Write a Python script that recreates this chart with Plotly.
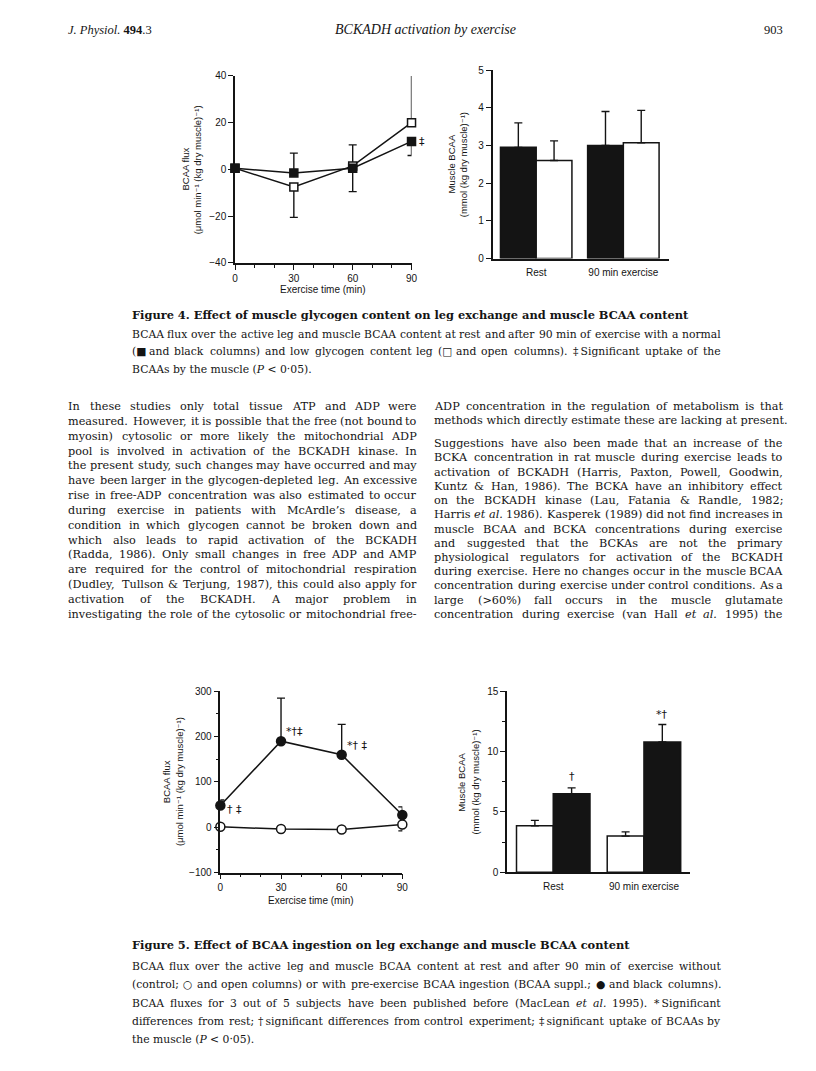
import re
import plotly.graph_objects as go

W, H = 816, 1071
SANS = "Liberation Sans, Arial, DejaVu Sans, sans-serif"
SERIF = "DejaVu Serif, serif"
HEAD = "Liberation Serif, serif"
INK = "#141414"

# ---------------- Figure 4 data ----------------
time_min = [0, 30, 60, 90]
f4_normal_flux = [0.5, -1.5, 0.5, 12.0]
f4_normal_err_up = [0, 8.5, 0, 0]
f4_normal_err_down = [0, 0, 10.0, 6.0]
f4_low_flux = [0.5, -7.5, 1.5, 20.0]
f4_low_err_up = [0, 0, 9.0, 22.5]
f4_low_err_down = [0, 13.0, 0, 0]

bar_cats = ["Rest", "90 min exercise"]
f4_normal_bcaa = [2.95, 3.0]
f4_normal_bcaa_err = [0.65, 0.9]
f4_low_bcaa = [2.6, 3.07]
f4_low_bcaa_err = [0.52, 0.86]

# ---------------- Figure 5 data ----------------
f5_suppl_flux = [48, 190, 160, 27]
f5_suppl_err_up = [12, 95, 67, 18]
f5_ctrl_flux = [1, -4, -5, 6]
f5_ctrl_err_down = [0, 0, 0, 14]

f5_ctrl_bcaa = [3.85, 3.0]
f5_ctrl_bcaa_err = [0.45, 0.35]
f5_suppl_bcaa = [6.5, 10.8]
f5_suppl_bcaa_err = [0.5, 1.45]

# ---------------- Text ----------------
header_left = "<i>J. Physiol.</i> <b>494</b>.3"
header_mid = "<i>BCKADH activation by exercise</i>"
header_right = "903"

flux_label = ["BCAA flux", "(\u03bcmol min\u207b\u00b9 (kg dry muscle)\u207b\u00b9)"]
bcaa_label = ["Muscle BCAA", "(mmol (kg dry muscle)\u207b\u00b9)"]
time_label = "Exercise time (min)"

fig4_title = "<b>Figure 4. Effect of muscle glycogen content on leg exchange and muscle BCAA content</b>"
fig4_caption = [
    "BCAA flux over the active leg and muscle BCAA content at rest and after 90 min of exercise with a normal",
    "(\u25a0 and black columns) and low glycogen content leg (\u25a1 and open columns). \u2021\u2009Significant uptake of the",
    "BCAAs by the muscle (<i>P</i> < 0\u00b705).",
]
fig5_title = "<b>Figure 5. Effect of BCAA ingestion on leg exchange and muscle BCAA content</b>"
fig5_caption = [
    "BCAA flux over the active leg and muscle BCAA content at rest and after 90 min of exercise without",
    "(control; \u25cb and open columns) or with pre-exercise BCAA ingestion (BCAA suppl.; \u25cf and black columns).",
    "BCAA fluxes for 3 out of 5 subjects have been published before (MacLean <i>et</i> <i>al.</i> 1995). *\u2009Significant",
    "differences from rest; \u2020\u2009significant differences from control experiment; \u2021\u2009significant uptake of BCAAs by",
    "the muscle (<i>P</i> < 0\u00b705).",
]

body_left = [
    "In these studies only total tissue ATP and ADP were",
    "measured. However, it is possible that the free (not bound to",
    "myosin) cytosolic or more likely the mitochondrial ADP",
    "pool is involved in activation of the BCKADH kinase. In",
    "the present study, such changes may have occurred and may",
    "have been larger in the glycogen-depleted leg. An excessive",
    "rise in free-ADP concentration was also estimated to occur",
    "during exercise in patients with McArdle\u2019s disease, a",
    "condition in which glycogen cannot be broken down and",
    "which also leads to rapid activation of the BCKADH",
    "(Radda, 1986). Only small changes in free ADP and AMP",
    "are required for the control of mitochondrial respiration",
    "(Dudley, Tullson & Terjung, 1987), this could also apply for",
    "activation of the BCKADH. A major problem in",
    "investigating the role of the cytosolic or mitochondrial free-",
]
body_right = [
    "ADP concentration in the regulation of metabolism is that",
    "methods which directly estimate these are lacking at present.",
    "Suggestions have also been made that an increase of the",
    "BCKA concentration in rat muscle during exercise leads to",
    "activation of BCKADH (Harris, Paxton, Powell, Goodwin,",
    "Kuntz & Han, 1986). The BCKA have an inhibitory effect",
    "on the BCKADH kinase (Lau, Fatania & Randle, 1982;",
    "Harris <i>et</i> <i>al.</i> 1986). Kasperek (1989) did not find increases in",
    "muscle BCAA and BCKA concentrations during exercise",
    "and suggested that the BCKAs are not the primary",
    "physiological regulators for activation of the BCKADH",
    "during exercise. Here no changes occur in the muscle BCAA",
    "concentration during exercise under control conditions. As a",
    "large (>60%) fall occurs in the muscle glutamate",
    "concentration during exercise (van Hall <i>et</i> <i>al.</i> 1995) the",
]
body_right_last_of_par = [1]

# ---------------- helpers ----------------
def X(px):
    return px / W

def Y(py):
    return 1 - py / H

# approximate advance widths (em) of DejaVu Serif
LC = dict(a=.593, b=.640, c=.560, d=.640, e=.592, f=.370, g=.640, h=.644, i=.320, j=.310,
          k=.606, l=.320, m=.950, n=.644, o=.602, p=.640, q=.640, r=.478, s=.513, t=.402,
          u=.644, v=.565, w=.856, x=.564, y=.565, z=.527)
UC = dict(A=.719, B=.734, C=.731, D=.799, E=.731, F=.687, G=.794, H=.875, I=.434, J=.432,
          K=.769, L=.673, M=1.009, N=.836, O=.799, P=.674, Q=.799, R=.753, S=.688, T=.674,
          U=.808, V=.719, W=1.042, X=.719, Y=.674, Z=.689)
PUNCT = {' ': .318, '.': .318, ',': .318, ':': .337, ';': .337, '(': .390, ')': .390,
         '-': .338, '&': .890, '\u2019': .318, "'": .274, '%': .950, '>': .838, '<': .838,
         '\u2020': .5, '\u2021': .5, '*': .5, '\u2009': .15, '\u00b7': .318,
         '\u25a0': .77, '\u25a1': .77, '\u25cb': .87, '\u25cf': .87}
PAD = 1.03


def em_width(s):
    s = re.sub(r"<[^>]+>", "", s)
    tot = 0.0
    for ch in s:
        if ch in LC:
            tot += LC[ch]
        elif ch in UC:
            tot += UC[ch]
        elif ch.isdigit():
            tot += .636
        else:
            tot += PUNCT.get(ch, .6)
    return tot * PAD


annots = []


def txt(text, x, y, size, family=SERIF, xanchor="left", yanchor="middle", angle=0, color=INK):
    annots.append(dict(text=text, x=X(x), y=Y(y), xref="paper", yref="paper", xanchor=xanchor,
                       yanchor=yanchor, showarrow=False, textangle=angle, borderpad=0, borderwidth=0,
                       font=dict(family=family, size=size, color=color)))


def fit_size(lines, width, cap, mingap):
    best = cap
    for ln in lines:
        words = ln.split(" ")
        need = sum(em_width(w) for w in words) + mingap * (len(words) - 1)
        best = min(best, width / need)
    return best


def justified(lines, x0, x1, ys, size, nojust):
    for i, (ln, y) in enumerate(zip(lines, ys)):
        if i in nojust:
            txt(ln, x0, y, size)
            continue
        words = ln.split(" ")
        widths = [em_width(w) * size for w in words]
        gap = (x1 - x0 - sum(widths)) / (len(words) - 1)
        pos = x0
        for k, (w, wd) in enumerate(zip(words, widths)):
            if k == 0:
                txt(w, x0, y, size)
            elif k == len(words) - 1:
                txt(w, x1, y, size, xanchor="right")
            else:
                txt(w, pos + wd / 2, y, size, xanchor="center")
            pos += wd + gap


# ---------------- header ----------------
txt(header_left, 58, 16, 12.5, family=HEAD)
txt(header_mid, 419, 16, 14, family=HEAD, xanchor="center")
txt(header_right, 781, 16, 12.5, family=HEAD, xanchor="right")

# ---------------- body text ----------------
colL = (58, 411)
colR = (428, 781)
body_size = fit_size(body_left + body_right, colL[1] - colL[0], 11.8, 0.2)
ysL = [397 + i * 15.0 for i in range(len(body_left))]
ysR = []
for i in range(len(body_right)):
    if i < 2:
        ysR.append(397 + i * 14.4)
    else:
        ysR.append(397 + (i + 0.6) * 14.4)
justified(body_left, colL[0], colL[1], ysL, body_size, set())
justified(body_right, colR[0], colR[1], ysR, body_size, set(body_right_last_of_par))

# ---------------- captions ----------------
capL, capR = 122, 718
cap_size = fit_size(fig4_caption[:-1] + fig5_caption[:-1], capR - capL, 10.8, 0.2)
txt(fig4_title, capL, 304, cap_size + 0.6)
justified(fig4_caption, capL, capR, [324 + i * 17.8 for i in range(3)], cap_size, {2})
txt(fig5_title, capL, 942, cap_size + 0.6)
justified(fig5_caption, capL, capR, [963.5 + i * 18.4 for i in range(5)], cap_size, {4})

# ---------------- chart geometry (pixels) ----------------
f4a = dict(x=(226.5, 405.0), y=(62.7, 251.7))
f4b = dict(x=(487.0, 665.0), y=(56.7, 247.3))
f5a = dict(x=(211.7, 395.7), y=(685.0, 868.3))
f5b = dict(x=(501.7, 686.7), y=(685.0, 868.0))


def dom(g):
    return [X(g["x"][0]), X(g["x"][1])], [Y(g["y"][1]), Y(g["y"][0])]


TF = dict(family=SANS, size=10, color=INK)


def lin_axis(domain, rng, dtick, minor, anchor):
    d = dict(domain=domain, range=rng, dtick=dtick, tick0=0, showline=True, linecolor=INK, linewidth=1.5,
             ticks="outside", ticklen=5, tickwidth=1.4, tickcolor=INK, showgrid=False, zeroline=False,
             tickfont=TF, anchor=anchor, fixedrange=True)
    if minor:
        d["minor"] = dict(dtick=minor, tick0=0, ticks="outside", ticklen=3, tickwidth=1.2,
                          tickcolor=INK, showgrid=False)
    return d


def cat_axis(domain, rng, anchor):
    return dict(domain=domain, range=rng, type="category", showline=True, linecolor=INK, linewidth=1.5,
                ticks="outside", ticklen=4, tickcolor="rgba(0,0,0,0)", showgrid=False, zeroline=False,
                tickfont=TF, anchor=anchor, fixedrange=True)


def line_trace(y, up, down, filled, symbol, size, xa, ya):
    return go.Scatter(x=time_min, y=y, xaxis=xa, yaxis=ya, mode="lines+markers",
                      line=dict(color=INK, width=1.5),
                      marker=dict(symbol=symbol, size=size, color=INK if filled else "white",
                                  line=dict(color=INK, width=1.5)),
                      error_y=dict(type="data", symmetric=False, array=up, arrayminus=down,
                                   color=INK, thickness=1.4, width=4),
                      cliponaxis=False, showlegend=False, hoverinfo="skip")


def bar_trace(y, err, color, offset, width, xa, ya):
    return go.Bar(x=bar_cats, y=y, xaxis=xa, yaxis=ya, width=width, offset=offset,
                  marker=dict(color=color, line=dict(color=INK, width=1.5)),
                  error_y=dict(type="data", symmetric=False, array=err, arrayminus=[0] * len(err),
                               color=INK, thickness=1.4, width=4),
                  cliponaxis=False, showlegend=False, hoverinfo="skip")


fig = go.Figure()
# Figure 4 left
fig.add_trace(line_trace(f4_low_flux, f4_low_err_up, f4_low_err_down, False, "square", 8, "x", "y"))
fig.add_trace(line_trace(f4_normal_flux, f4_normal_err_up, f4_normal_err_down, True, "square", 8, "x", "y"))
# Figure 4 right
bw4 = 0.41
fig.add_trace(bar_trace(f4_normal_bcaa, f4_normal_bcaa_err, INK, -bw4, bw4, "x2", "y2"))
fig.add_trace(bar_trace(f4_low_bcaa, f4_low_bcaa_err, "white", 0, bw4, "x2", "y2"))
# Figure 5 left
fig.add_trace(line_trace(f5_ctrl_flux, [0, 0, 0, 0], f5_ctrl_err_down, False, "circle", 9, "x3", "y3"))
fig.add_trace(line_trace(f5_suppl_flux, f5_suppl_err_up, [0, 0, 0, 0], True, "circle", 9, "x3", "y3"))
# Figure 5 right
bw5 = 0.405
fig.add_trace(bar_trace(f5_ctrl_bcaa, f5_ctrl_bcaa_err, "white", -bw5, bw5, "x4", "y4"))
fig.add_trace(bar_trace(f5_suppl_bcaa, f5_suppl_bcaa_err, INK, 0, bw5, "x4", "y4"))

dx, dy = dom(f4a)
xa1 = lin_axis(dx, [0, 90], 30, 10, "y")
ya1 = lin_axis(dy, [-40, 40], 20, None, "x")
dx, dy = dom(f4b)
xa2 = cat_axis(dx, [-0.5, 1.52], "y2")
ya2 = lin_axis(dy, [0, 5], 1, None, "x2")
dx, dy = dom(f5a)
xa3 = lin_axis(dx, [0, 90], 30, 10, "y3")
ya3 = lin_axis(dy, [-100, 300], 100, 50, "x3")
dx, dy = dom(f5b)
xa4 = cat_axis(dx, [-0.508, 1.509], "y4")
ya4 = lin_axis(dy, [0, 15], 5, 2.5, "x4")

# axis titles (as text)
LF = 9.5
mid4a = (f4a["y"][0] + f4a["y"][1]) / 2
txt(flux_label[0], 176, mid4a, LF, family=SANS, xanchor="center", angle=-90)
txt(flux_label[1], 189, mid4a, LF, family=SANS, xanchor="center", angle=-90)
txt(time_label, (f4a["x"][0] + f4a["x"][1]) / 2, 279, LF + 0.5, family=SANS, xanchor="center")
mid4b = (f4b["y"][0] + f4b["y"][1]) / 2
txt(bcaa_label[0], 445, mid4b, LF, family=SANS, xanchor="center", angle=-90)
txt(bcaa_label[1], 457, mid4b, LF, family=SANS, xanchor="center", angle=-90)

mid5a = (f5a["y"][0] + f5a["y"][1]) / 2
txt(flux_label[0], 158, mid5a, LF, family=SANS, xanchor="center", angle=-90)
txt(flux_label[1], 171, mid5a, LF, family=SANS, xanchor="center", angle=-90)
txt(time_label, (f5a["x"][0] + f5a["x"][1]) / 2, 897, LF + 0.5, family=SANS, xanchor="center")
mid5b = (f5b["y"][0] + f5b["y"][1]) / 2
txt(bcaa_label[0], 456, mid5b, LF, family=SANS, xanchor="center", angle=-90)
txt(bcaa_label[1], 470, mid5b, LF, family=SANS, xanchor="center", angle=-90)

# significance marks (data-anchored)
SF = dict(family="DejaVu Sans, sans-serif", size=11, color=INK)


def mark(text, xref, yref, x, y, xs, ys):
    annots.append(dict(text=text, x=x, y=y, xref=xref, yref=yref, xanchor="left", yanchor="middle",
                       xshift=xs, yshift=ys, showarrow=False, font=SF, borderpad=0))


mark("\u2021", "x", "y", time_min[3], f4_normal_flux[3], 6, 0)
mark("*\u2020\u2021", "x3", "y3", time_min[1], f5_suppl_flux[1], 4, 10)
mark("*\u2020 \u2021", "x3", "y3", time_min[2], f5_suppl_flux[2], 4, 9)
mark("\u2020 \u2021", "x3", "y3", time_min[0], f5_suppl_flux[0], 6, -4)
annots.append(dict(text="\u2020", x=0 + bw5 / 2, y=f5_suppl_bcaa[0] + f5_suppl_bcaa_err[0], xref="x4", yref="y4",
                   xanchor="center", yanchor="bottom", yshift=3, showarrow=False, font=SF))
annots.append(dict(text="*\u2020", x=1 + bw5 / 2, y=f5_suppl_bcaa[1] + f5_suppl_bcaa_err[1], xref="x4", yref="y4",
                   xanchor="center", yanchor="bottom", yshift=1, showarrow=False, font=SF))

fig.update_layout(
    width=W, height=H, margin=dict(l=0, r=0, t=0, b=0),
    paper_bgcolor="white", plot_bgcolor="rgba(0,0,0,0)", showlegend=False,
    xaxis=xa1, yaxis=ya1, xaxis2=xa2, yaxis2=ya2, xaxis3=xa3, yaxis3=ya3, xaxis4=xa4, yaxis4=ya4,
    annotations=annots, barmode="overlay",
)
fig.write_html("out.html")
